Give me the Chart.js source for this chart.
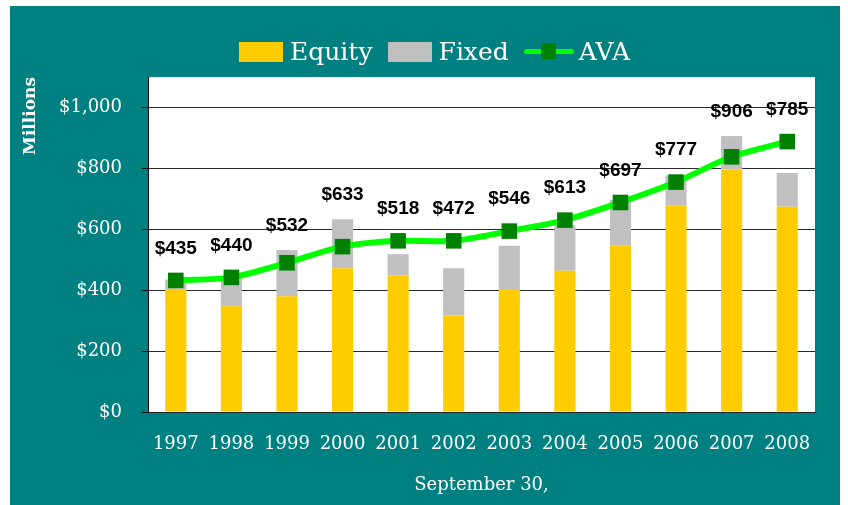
<!DOCTYPE html>
<html>
<head>
<meta charset="utf-8">
<script src="https://cdn.jsdelivr.net/npm/chart.js@4"></script>
<style>
  html, body { margin: 0; padding: 0; background: #ffffff; }
  #wrap { position: absolute; left: 10px; top: 6px; width: 830px; height: 499px; background: #008080; }
  #c { position: absolute; left: 0; top: 0; }
  #legend { position: absolute; left: 229px; top: 31px; height: 30px; display: flex; align-items: center;
            font-family: "DejaVu Serif", serif; font-size: 25px; line-height: 30px; color: #ffffff; white-space: nowrap; }
  .sw { width: 44px; height: 20px; margin-right: 7px; }
  .txt { margin-right: 15px; }
  .lsw { position: relative; width: 50px; height: 20px; margin-right: 5px; }
  .lsw .ln { position: absolute; left: 0; right: 0; top: 7px; height: 5px; border-radius: 3px; background: #00ff00; }
  .lsw .mk { position: absolute; left: 17px; top: 1px; width: 15px; height: 16px; background: #008000; }
</style>
</head>
<body>
<div id="wrap">
  <canvas id="c" width="830" height="499"></canvas>
  <div id="legend"></div>
</div>
<script>
const years  = ['1997','1998','1999','2000','2001','2002','2003','2004','2005','2006','2007','2008'];
const equity = [401, 347, 380, 472, 448, 317, 404, 464, 547, 678, 796, 674];
const fixed  = [34, 93, 152, 161, 70, 155, 142, 149, 150, 99, 110, 111];
const ava    = [432, 442, 490, 543, 562, 562, 594, 630, 688, 755, 838, 888];
const yTicks = [0, 200, 400, 600, 800, 1000];

const seriesNames = ['Equity', 'Fixed', 'AVA'];
const colEquity = '#ffcc00', colFixed = '#c0c0c0', colLine = '#00ff00', colMarker = '#008000';

// HTML legend built from series names
const lg = document.getElementById('legend');
function addBox(color, name) {
  const s = document.createElement('div'); s.className = 'sw'; s.style.background = color; lg.appendChild(s);
  const t = document.createElement('span'); t.className = 'txt'; t.textContent = name; lg.appendChild(t);
}
addBox(colEquity, seriesNames[0]);
addBox(colFixed, seriesNames[1]);
(function(){
  const s = document.createElement('div'); s.className = 'lsw';
  s.innerHTML = '<div class="ln"></div><div class="mk"></div>'; lg.appendChild(s);
  const t = document.createElement('span'); t.textContent = seriesNames[2]; lg.appendChild(t);
})();

const totalLabels = {
  id: 'totalLabels',
  afterDatasetsDraw(chart) {
    const ctx = chart.ctx, y = chart.scales.y, x = chart.scales.x;
    ctx.save();
    ctx.font = 'bold 19px "Liberation Sans", Arial, sans-serif';
    ctx.fillStyle = '#000000';
    ctx.textAlign = 'center';
    ctx.textBaseline = 'middle';
    years.forEach((yr, i) => {
      const total = equity[i] + fixed[i];
      const top = Math.min(y.getPixelForValue(total), y.getPixelForValue(ava[i]) - 8);
      ctx.fillText('$' + total, x.getPixelForValue(i), top - 24);
    });
    ctx.restore();
  }
};

const whitePlot = {
  id: 'whitePlot',
  beforeDraw(chart) {
    const a = chart.chartArea, ctx = chart.ctx;
    ctx.save(); ctx.fillStyle = '#ffffff';
    ctx.fillRect(a.left, a.top, a.right - a.left, a.bottom - a.top);
    ctx.restore();
  }
};

new Chart(document.getElementById('c'), {
  data: {
    labels: years,
    datasets: [
      { type: 'line', label: seriesNames[2], data: ava, stack: 'ava', order: 0,
        borderColor: colLine, borderWidth: 6, tension: 0.3, fill: false,
        pointStyle: 'rect', pointRadius: 11, pointHoverRadius: 11,
        pointBackgroundColor: colMarker, pointBorderColor: colMarker, pointBorderWidth: 0 },
      { type: 'bar', label: seriesNames[0], data: equity, stack: 'bars', order: 1,
        backgroundColor: colEquity, categoryPercentage: 1, barPercentage: 0.38 },
      { type: 'bar', label: seriesNames[1], data: fixed, stack: 'bars', order: 1,
        backgroundColor: colFixed, categoryPercentage: 1, barPercentage: 0.38 }
    ]
  },
  options: {
    responsive: false,
    animation: false,
    layout: { padding: { top: 71, right: 25, left: 0, bottom: 0 } },
    plugins: { legend: { display: false }, tooltip: { enabled: false } },
    scales: {
      x: {
        stacked: true,
        grid: { display: false, drawTicks: false },
        border: { color: '#222222' },
        ticks: { color: '#ffffff', padding: 22, font: { family: '"DejaVu Serif", serif', size: 18 } },
        title: { display: true, text: 'September 30,', color: '#ffffff', padding: { top: 0, bottom: 9 },
                 font: { family: '"DejaVu Serif", serif', size: 18 } },
        afterFit(s) { s.height = 93; }
      },
      y: {
        stacked: true,
        min: 0, max: 1100,
        afterBuildTicks(s) { s.ticks = yTicks.map(v => ({ value: v })); },
        grid: { color: '#2a2a2a', lineWidth: 1, tickLength: 6, tickColor: '#000000' },
        border: { color: '#000000', width: 1 },
        ticks: { color: '#ffffff', padding: 20, font: { family: '"DejaVu Serif", serif', size: 18 },
                 callback: v => '$' + v.toLocaleString('en-US') },
        title: { display: true, text: 'Millions', align: 'end', color: '#ffffff', padding: { top: 10, bottom: 0 },
                 font: { family: '"DejaVu Serif", serif', size: 17, weight: 'bold' } },
        afterFit(s) { s.width = 138; }
      }
    }
  },
  plugins: [whitePlot, totalLabels]
});
</script>
</body>
</html>
